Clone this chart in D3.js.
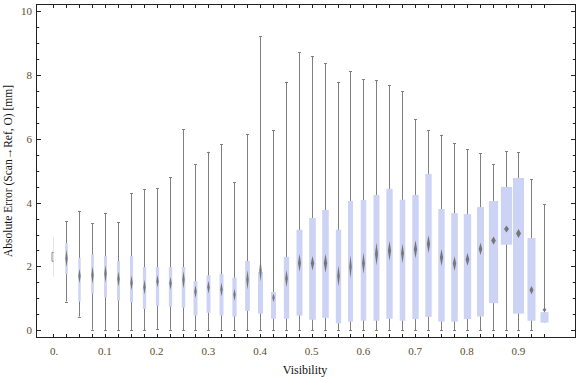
<!DOCTYPE html>
<html>
<head>
<meta charset="UTF-8">
<title>Absolute Error vs Visibility</title>
<style>
  body { margin: 0; background: #fff; }
  svg { display: block; }
  text { font-family: "Liberation Serif", "Times New Roman", serif; }
</style>
</head>
<body>
<svg id="chart"></svg>
<script src="https://d3js.org/d3.v7.min.js"></script>
<script>
// visibility bins (x) and box-whisker statistics
const visibility = [0, 0.025, 0.05, 0.075, 0.1, 0.125, 0.15, 0.175, 0.2, 0.225,
  0.25, 0.275, 0.3, 0.325, 0.35, 0.375, 0.4, 0.425, 0.45, 0.475,
  0.5, 0.525, 0.55, 0.575, 0.6, 0.625, 0.65, 0.675, 0.7, 0.725,
  0.75, 0.775, 0.8, 0.825, 0.85, 0.875, 0.9, 0.925, 0.95];
const whiskerLow = [1.68, 0.90, 0.43, 0.02, 0, 0, 0, 0, 0.04, 0.02,
  0, 0, 0, 0, 0, 0, 0, 0, 0, 0,
  0, 0, 0, 0, 0, 0, 0, 0, 0, 0,
  0, 0, 0, 0, 0, 0, 0, 0, 0.24];
const q1 = [2.16, 1.76, 0.90, 1.15, 1.03, 0.93, 0.88, 0.67, 0.77, 0.74,
  0.71, 0.46, 0.55, 0.46, 0.43, 0.61, 0.52, 0.36, 0.36, 0.46,
  0.33, 0.39, 0.22, 0.27, 0.30, 0.30, 0.36, 0.30, 0.35, 0.42,
  0.27, 0.27, 0.35, 0.43, 0.85, 2.68, 0.52, 0.30, 0.24];
const median = [2.30, 2.25, 1.70, 1.73, 1.77, 1.61, 1.49, 1.35, 1.54, 1.47,
  1.58, 1.21, 1.35, 1.28, 1.11, 1.58, 1.87, 1.02, 1.62, 2.11,
  2.10, 2.10, 1.70, 1.99, 2.10, 2.39, 2.49, 2.41, 2.54, 2.70,
  2.28, 2.09, 2.22, 2.55, 2.81, 3.17, 3.03, 1.26, 0.64];
const q3 = [2.44, 2.73, 2.27, 2.38, 2.33, 2.17, 2.33, 1.98, 1.98, 1.98,
  1.98, 1.54, 1.72, 1.76, 1.65, 2.17, 1.83, 1.20, 2.30, 3.15,
  3.52, 3.77, 3.15, 4.05, 4.08, 4.24, 4.43, 4.09, 4.24, 4.90,
  3.80, 3.67, 3.64, 3.86, 4.05, 4.49, 4.77, 2.89, 0.57];
const whiskerHigh = [2.93, 3.42, 3.74, 3.36, 3.67, 3.39, 4.29, 4.41, 4.45, 4.79,
  6.30, 5.20, 5.59, 5.83, 4.63, 6.14, 9.22, 6.27, 7.78, 8.71,
  8.58, 8.37, 7.78, 8.12, 7.86, 7.84, 7.67, 7.49, 6.61, 6.26,
  6.12, 5.86, 5.67, 5.54, 5.21, 5.61, 5.57, 4.73, 3.95];
// half-height of the median diamond (median confidence interval)
const medianCI = [0, 0.27, 0.23, 0.27, 0.27, 0.23, 0.23, 0.23, 0.19, 0.20,
  0.27, 0.20, 0.20, 0.22, 0.19, 0.31, 0.34, 0.13, 0.27, 0.28,
  0.23, 0.30, 0.33, 0.36, 0.34, 0.36, 0.31, 0.31, 0.28, 0.28,
  0.27, 0.23, 0.20, 0.19, 0.13, 0.11, 0.14, 0.13, 0.06];
// relative sample size of each bin (drives box width)
const relN = [0.08, 0.22, 0.21, 0.24, 0.25, 0.27, 0.27, 0.29, 0.29, 0.29,
  0.31, 0.35, 0.35, 0.35, 0.38, 0.42, 0.44, 0.44, 0.47, 0.53,
  0.59, 0.58, 0.47, 0.44, 0.49, 0.53, 0.56, 0.50, 0.56, 0.56,
  0.56, 0.59, 0.65, 0.62, 0.82, 1.00, 0.97, 0.71, 0.71];

const xLabels = ["0.", "0.1", "0.2", "0.3", "0.4", "0.5", "0.6", "0.7", "0.8", "0.9"];
const xLabelValues = [0, 0.1, 0.2, 0.3, 0.4, 0.5, 0.6, 0.7, 0.8, 0.9];
const yMajor = [0, 2, 4, 6, 8, 10];

const W = 576, H = 377;
const frame = { left: 36.5, right: 575.5, top: 4.5, bottom: 337.5 };

const svg = d3.select("#chart").attr("width", W).attr("height", H);

const x = d3.scaleLinear().domain([0, 0.95]).range([53.3, 544.3]);
const y = d3.scaleLinear().domain([0, 10]).range([330.3, 11]);
const wScale = d3.scaleLinear().domain([0, 1]).range([0, 11.3]);

const data = visibility.map((v, i) => ({
  v, lo: whiskerLow[i], q1: q1[i], med: median[i], q3: q3[i], hi: whiskerHigh[i],
  ci: medianCI[i], w: wScale(relN[i])
}));

const defs = svg.append("defs");
defs.append("filter").attr("id", "soft")
  .attr("x", "-50%").attr("y", "-50%").attr("width", "200%").attr("height", "200%")
  .append("feGaussianBlur").attr("stdDeviation", 0.5);

const gBoxes = svg.append("g");
const whiskerCol = "#7f7f7f";

data.forEach((d, i) => {
  const cx = Math.round(x(d.v)) + 0.5;
  const faint = i === 0;
  // whisker line
  gBoxes.append("line")
    .attr("x1", cx).attr("x2", cx)
    .attr("y1", y(d.hi)).attr("y2", y(d.lo))
    .attr("stroke", faint ? "#e4e4e4" : whiskerCol).attr("stroke-width", 1);
  if (faint) {
    // tiny bin: only a bracket for the quartiles
    const bx = cx - 1.5;
    gBoxes.append("path")
      .attr("d", `M${bx + 1.5},${y(d.q3)}H${bx}V${y(d.q1)}H${bx + 1.5}`)
      .attr("fill", "none").attr("stroke", "#888").attr("stroke-width", 1);
    return;
  }
  // caps
  [d.hi, d.lo].forEach(val => {
    if (val < d.q1 || val > d.q3) {
      gBoxes.append("line")
        .attr("x1", cx - 1.5).attr("x2", cx + 1.5)
        .attr("y1", Math.round(y(val)) + 0.5).attr("y2", Math.round(y(val)) + 0.5)
        .attr("stroke", whiskerCol).attr("stroke-width", 1);
    }
  });
  // box
  gBoxes.append("rect")
    .attr("x", cx - d.w / 2).attr("width", d.w)
    .attr("y", y(d.q3)).attr("height", y(d.q1) - y(d.q3))
    .attr("fill", "#cdd3f5");
  // median diamond
  const hw = Math.max(1.2, Math.min(2.5, d.w * 0.25));
  const my = y(d.med), dh = Math.max(2, y(0) - y(d.ci));
  gBoxes.append("path")
    .attr("d", `M${cx},${my - dh}L${cx + hw},${my}L${cx},${my + dh}L${cx - hw},${my}Z`)
    .attr("fill", "#767676").attr("filter", "url(#soft)");
});

// frame
svg.append("rect")
  .attr("x", frame.left).attr("y", frame.top)
  .attr("width", frame.right - frame.left).attr("height", frame.bottom - frame.top)
  .attr("fill", "none").attr("stroke", "#222").attr("stroke-width", 1);

const gTicks = svg.append("g").attr("stroke", "#222").attr("stroke-width", 1);

// x ticks at every bin, bottom and top
visibility.forEach(v => {
  const px = Math.round(x(v)) + 0.5;
  gTicks.append("line").attr("x1", px).attr("x2", px)
    .attr("y1", frame.bottom).attr("y2", frame.bottom - 3.5);
  gTicks.append("line").attr("x1", px).attr("x2", px)
    .attr("y1", frame.top).attr("y2", frame.top + 3.5);
});

// y ticks: majors every 2, minors every 0.5
d3.range(0, 10.01, 0.5).forEach(v => {
  const py = Math.round(y(v)) + 0.5;
  const len = v % 2 === 0 ? 4.5 : 2.7;
  gTicks.append("line").attr("x1", frame.left).attr("x2", frame.left + len)
    .attr("y1", py).attr("y2", py);
  gTicks.append("line").attr("x1", frame.right).attr("x2", frame.right - len)
    .attr("y1", py).attr("y2", py);
});

const labelCol = "#5e4b2c";

svg.append("g").selectAll("text")
  .data(xLabelValues)
  .join("text")
  .attr("x", (v, i) => x(v) + (i === 0 ? 0.8 : 0))
  .attr("y", 354.5)
  .attr("text-anchor", "middle")
  .attr("font-size", 11)
  .attr("fill", labelCol)
  .text((v, i) => xLabels[i]);

svg.append("g").selectAll("text")
  .data(yMajor)
  .join("text")
  .attr("x", 32)
  .attr("y", v => y(v) + 4)
  .attr("text-anchor", "end")
  .attr("font-size", 11)
  .attr("fill", labelCol)
  .text(v => v);

svg.append("text")
  .attr("x", 305).attr("y", 373.5)
  .attr("text-anchor", "middle")
  .attr("font-size", 12)
  .attr("fill", "#111")
  .text("Visibility");

svg.append("text")
  .attr("transform", "translate(11.5,171) rotate(-90)")
  .attr("text-anchor", "middle")
  .attr("font-size", 11.5)
  .attr("fill", "#111")
  .text("Absolute Error (Scan\u2192Ref, O) [mm]");
</script>
</body>
</html>
